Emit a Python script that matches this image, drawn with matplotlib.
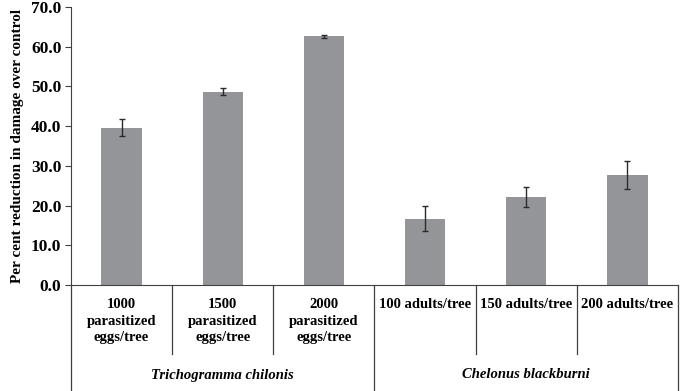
import numpy as np
import matplotlib.pyplot as plt
import matplotlib.transforms as mtransforms

# ---------- datos ----------
tratamientos = ["1000\nparasitized\neggs/tree", "1500\nparasitized\neggs/tree",
                "2000\nparasitized\neggs/tree", "100 adults/tree",
                "150 adults/tree", "200 adults/tree"]
reduccion = [39.6, 48.7, 62.6, 16.7, 22.2, 27.7]
error = [2.2, 0.9, 0.3, 3.1, 2.6, 3.6]
grupos = ["Trichogramma chilonis", "Chelonus blackburni"]
tamano_grupo = [3, 3]

plt.rcParams['font.family'] = ['Liberation Serif', 'DejaVu Serif']
plt.rcParams['font.weight'] = 'bold'

fig = plt.figure(figsize=(6.85, 3.91), dpi=100)
ax = fig.add_axes([71 / 685, 1 - 285 / 391, (678 - 71) / 685, (285 - 7) / 391])

x = np.arange(len(reduccion))
ax.bar(x, reduccion, width=0.4, color='#939598', zorder=2)
ax.errorbar(x, reduccion, yerr=error, fmt='none', ecolor='#2b2b2b',
            elinewidth=1, capsize=2.5, capthick=1, zorder=3)

ax.set_xlim(-0.5, len(x) - 0.5)
ax.set_ylim(0, 70)
ax.set_yticks(np.arange(0, 71, 10))
ax.set_yticklabels([f"{v:.1f}" for v in np.arange(0, 71, 10)], fontsize=12.5, fontweight='bold')
ax.set_xticks([])
ax.set_ylabel('Per cent reduction in damage over control', fontsize=11, fontweight='bold', labelpad=5)
ax.tick_params(axis='y', direction='out', length=4, width=0.8, color='#404040', pad=3)

for s in ['top', 'right']:
    ax.spines[s].set_visible(False)
for s in ['left', 'bottom']:
    ax.spines[s].set_color('#404040')
    ax.spines[s].set_linewidth(0.8)

# ---------- tabla de etiquetas bajo el eje ----------
trans = mtransforms.blended_transform_factory(ax.transData, ax.transAxes)
alto = 278
y_corto = -(354 - 285) / alto
y_largo = -(391 - 285) / alto
lc = '#404040'

bordes_grupo = np.cumsum([0] + tamano_grupo) - 0.5
for i in range(len(x) + 1):
    b = i - 0.5
    y_fin = y_largo if b in bordes_grupo else y_corto
    ax.plot([b, b], [0, y_fin], transform=trans, color=lc, lw=0.9, clip_on=False)

for xi, t in zip(x, tratamientos):
    ax.text(xi, -(298 - 285) / alto, t, transform=trans, ha='center', va='top',
            fontsize=10.5, fontweight='bold', linespacing=1.35)

inicio = 0
for g, n in zip(grupos, tamano_grupo):
    centro = inicio + (n - 1) / 2
    ax.text(centro, -(375 - 285) / alto, g, transform=trans, ha='center', va='center',
            fontsize=10.5, fontweight='bold', style='italic')
    inicio += n

fig.savefig('out.png', dpi=100)
